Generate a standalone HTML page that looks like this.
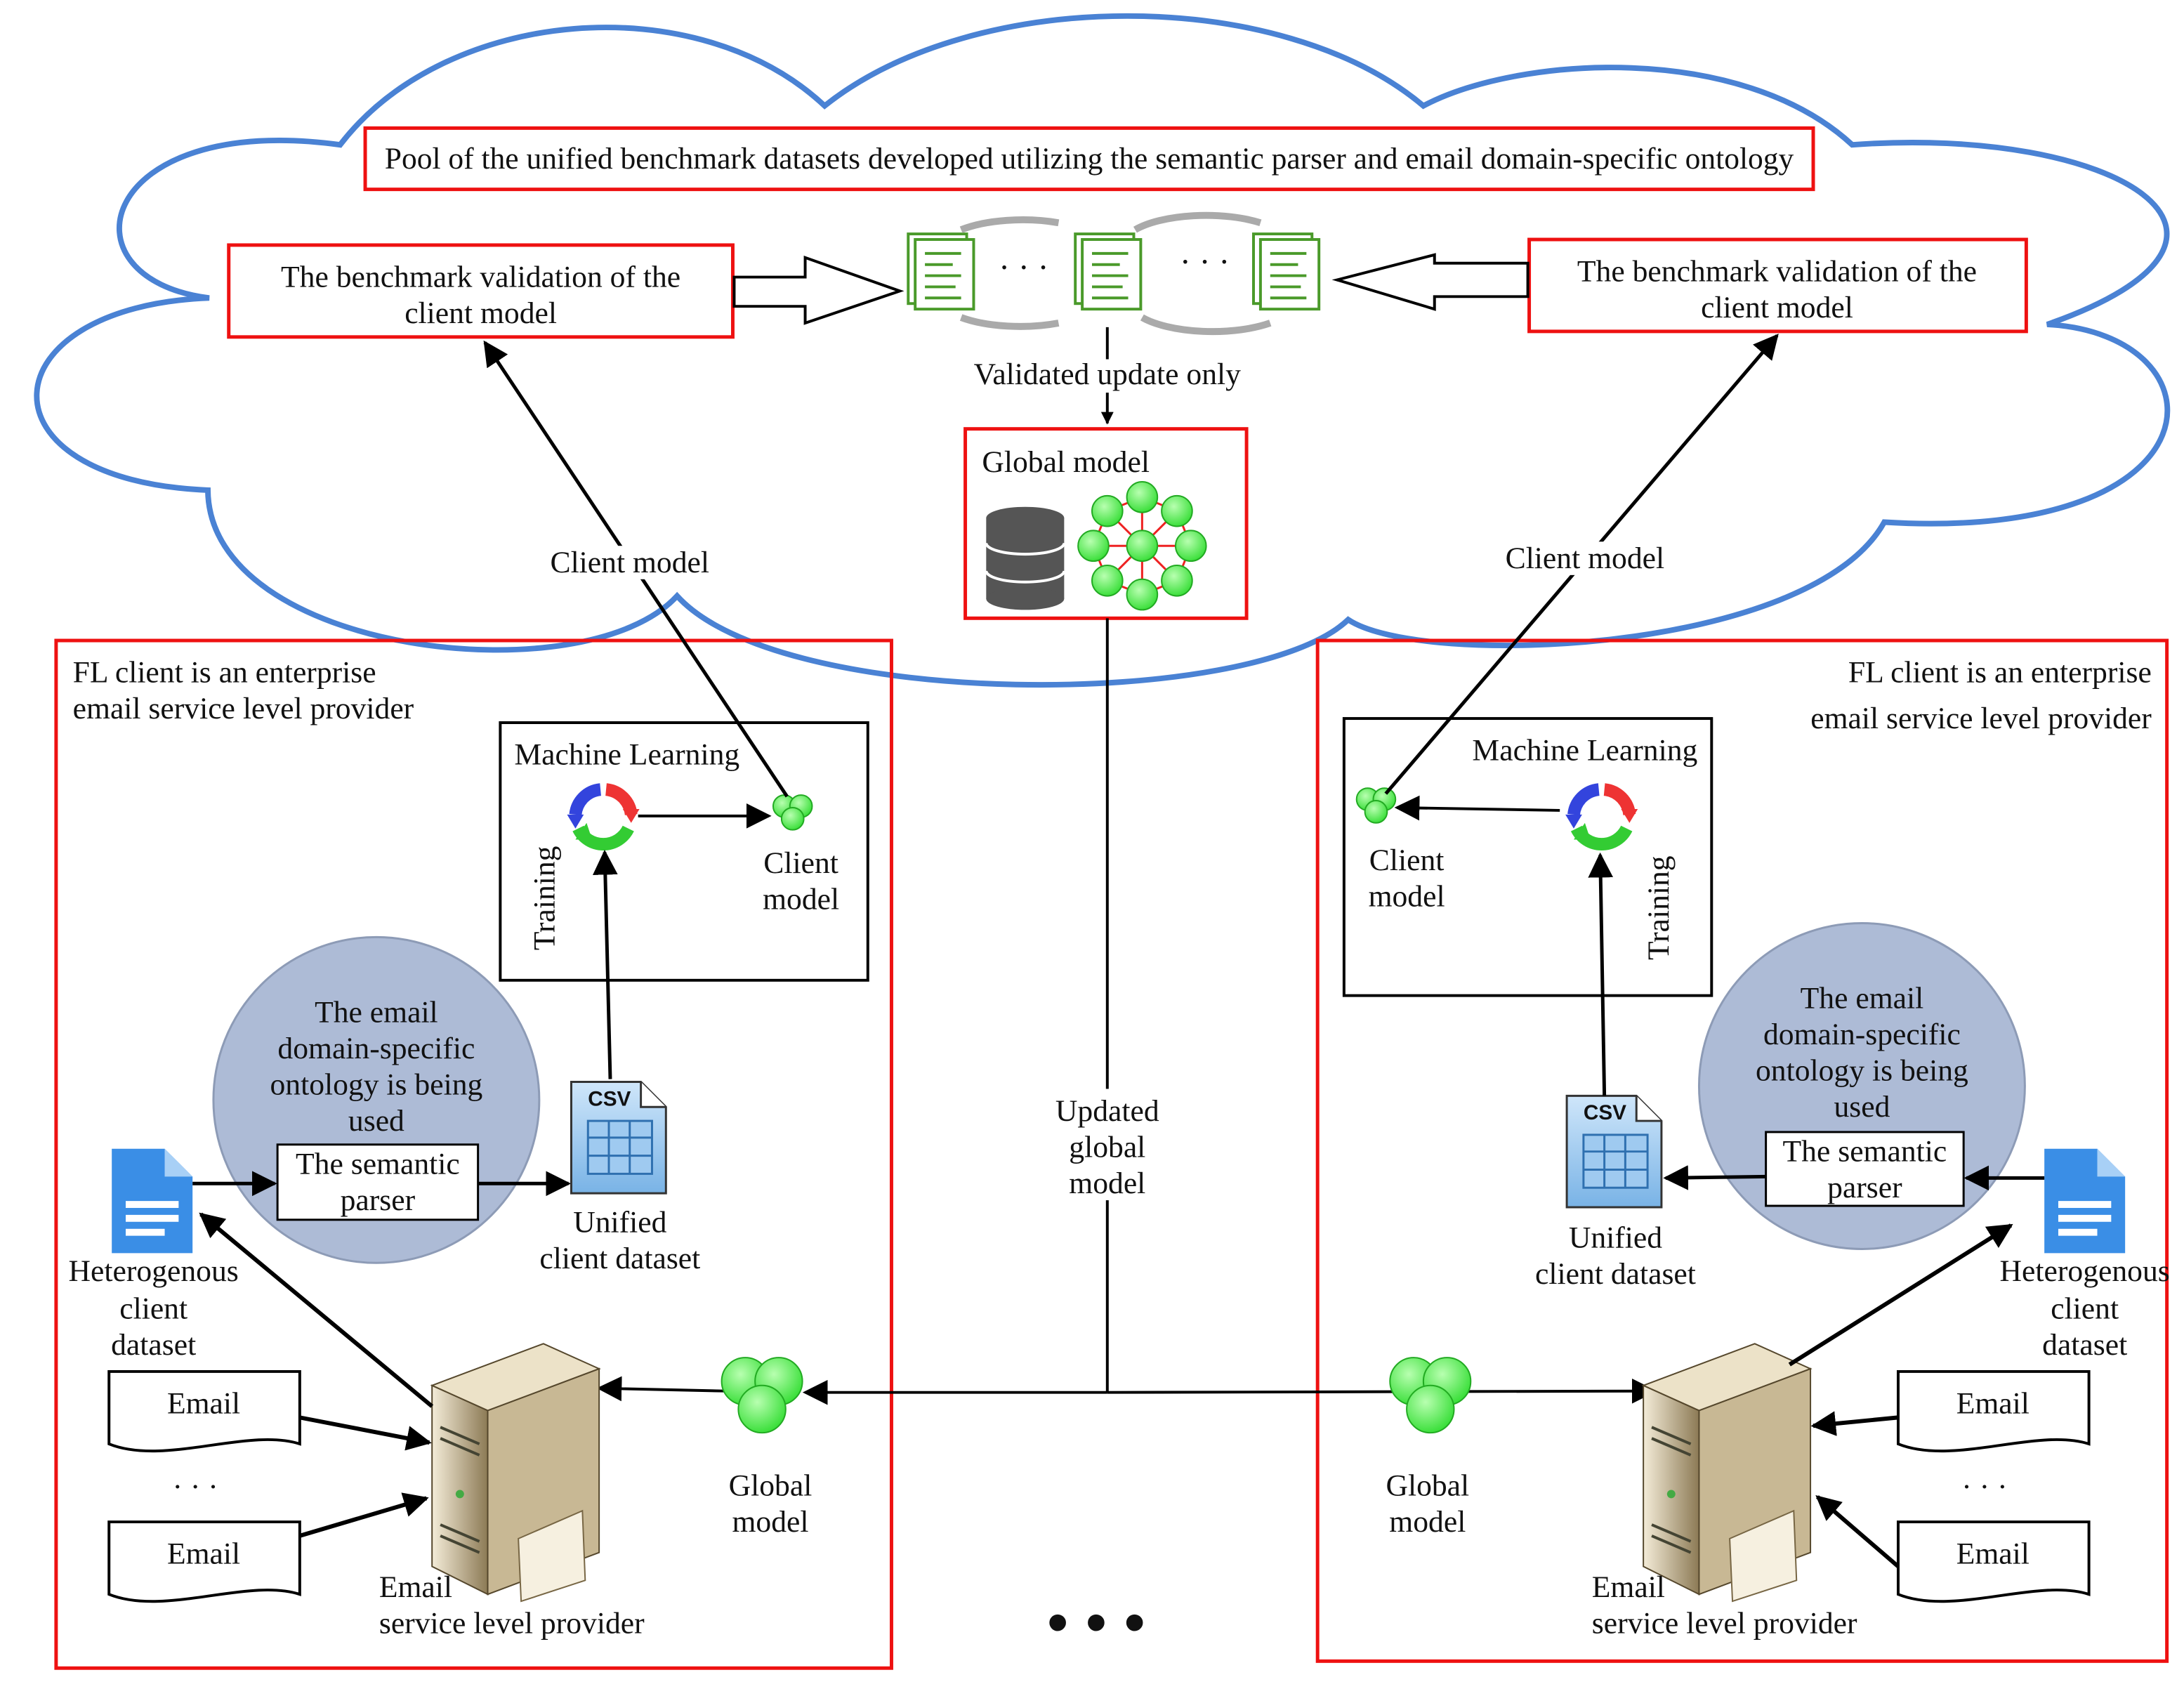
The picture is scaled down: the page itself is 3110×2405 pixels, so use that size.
<!DOCTYPE html>
<html><head><meta charset="utf-8"><style>html,body{margin:0;padding:0;background:#fff}svg{display:block}</style></head>
<body>
<svg xmlns="http://www.w3.org/2000/svg" width="3110" height="2405" viewBox="0 0 1568 1213" font-family="Liberation Serif, serif" font-size="22" fill="#111">
<defs>
<marker id="ah" viewBox="0 0 10 10" refX="9" refY="5" markerWidth="9" markerHeight="9" markerUnits="userSpaceOnUse" orient="auto"><path d="M0,0 L10,5 L0,10 z" fill="#000"/></marker>
<marker id="ab" viewBox="0 0 10 10" refX="9" refY="5" markerWidth="18" markerHeight="18" markerUnits="userSpaceOnUse" orient="auto"><path d="M0,0 L10,5 L0,10 z" fill="#000"/></marker>
<radialGradient id="gg" cx="40%" cy="35%" r="70%"><stop offset="0" stop-color="#b8ffb0"/><stop offset="1" stop-color="#33dd33"/></radialGradient>
<linearGradient id="srv" x1="0" x2="1"><stop offset="0" stop-color="#f4ecd8"/><stop offset="1" stop-color="#8c7a55"/></linearGradient>
<linearGradient id="doc" x1="0" x2="0" y1="0" y2="1"><stop offset="0" stop-color="#cfe6fa"/><stop offset="1" stop-color="#79b3e6"/></linearGradient>
<g id="clus"><circle cx="-12" cy="-8" r="17" fill="url(#gg)" stroke="#22aa22"/><circle cx="12" cy="-8" r="17" fill="url(#gg)" stroke="#22aa22"/><circle cx="0" cy="12" r="17" fill="url(#gg)" stroke="#22aa22"/></g>
<g id="sclus"><circle cx="-6" cy="-4" r="8" fill="url(#gg)" stroke="#22aa22"/><circle cx="6" cy="-4" r="8" fill="url(#gg)" stroke="#22aa22"/><circle cx="0" cy="5" r="8" fill="url(#gg)" stroke="#22aa22"/></g>
<g id="cyc">
<path d="M-20,-2 A20,20 0 0 1 -2,-20" fill="none" stroke="#3344dd" stroke-width="9"/>
<path d="M2,-20 A20,20 0 0 1 20,-2" fill="none" stroke="#ee3333" stroke-width="9"/>
<path d="M18,8 A20,20 0 0 1 -18,8" fill="none" stroke="#33cc33" stroke-width="9"/>
<path d="M14,-6 L26,-6 L20,4 z" fill="#ee3333"/><path d="M-26,-2 L-14,-2 L-20,8 z" fill="#3344dd"/><path d="M-20,16 L-12,4 L-8,16 z" fill="#33cc33"/>
</g>
<g id="gdoc"><rect x="0" y="0" width="42" height="50" fill="#fff" stroke="#4a9a2a" stroke-width="2"/><rect x="5" y="4" width="42" height="50" fill="#fff" stroke="#4a9a2a" stroke-width="2"/>
<path d="M12,14h26M12,22h20M12,30h26M12,38h22M12,46h26" stroke="#4a9a2a" stroke-width="2"/></g>
<g id="bdoc"><path d="M0,0 H38 L58,20 V75 H0 z" fill="#3a8ee6"/><path d="M38,0 V20 H58 z" fill="#a8d0f6"/><path d="M10,40h38M10,50h38M10,60h28" stroke="#fff" stroke-width="5"/></g>
<g id="csv"><path d="M0,0 H50 L68,18 V80 H0 z" fill="url(#doc)" stroke="#333" stroke-width="1.5"/><path d="M50,0 V18 H68" fill="#fff" stroke="#333" stroke-width="1.5"/>
<text x="12" y="17" font-family="Liberation Sans, sans-serif" font-weight="bold" font-size="15">CSV</text>
<rect x="12" y="28" width="46" height="38" fill="#9fcaf0" stroke="#2f70b0" stroke-width="1.5"/><path d="M12,40h46M12,53h46M27,28v38M42,28v38" stroke="#2f70b0" stroke-width="1.5"/></g>
<g id="server"><path d="M0,30 L80,0 L120,18 L120,150 L40,180 L0,160 z" fill="#6d5c3c"/><path d="M0,30 L40,48 L40,180 L0,160 z" fill="url(#srv)" stroke="#55472c"/><path d="M40,48 L120,18 L120,150 L40,180 z" fill="#c8b894" stroke="#55472c"/><path d="M0,30 L80,0 L120,18 L40,48 z" fill="#ece2c8" stroke="#55472c"/>
<path d="M6,60 L34,72 M6,68 L34,80 M6,130 L34,142 M6,138 L34,150" stroke="#443" stroke-width="2"/><circle cx="20" cy="108" r="3" fill="#4a4"/>
<path d="M62,140 L108,120 L110,170 L64,185 z" fill="#f6f0e0" stroke="#776644"/></g>
<g id="email"><path d="M0,0 H137 V52 C100,40 40,68 0,52 z" fill="#fff" stroke="#000" stroke-width="2"/><text x="68" y="30" text-anchor="middle">Email</text></g>
</defs>

<!-- cloud -->
<path d="M150,214 C40,200 70,80 244,104 C320,5 500,-10 592,76 C700,-10 920,-10 1022,76 C1090,40 1250,30 1330,104 C1520,90 1650,170 1470,233 C1600,240 1600,390 1353,375 C1300,470 1020,480 968,445 C900,510 560,510 486,428 C420,500 150,470 149,352 C-20,345 -10,220 150,214 z" fill="#fff" stroke="#4a82d4" stroke-width="4"/>

<rect x="262" y="92" width="1040" height="44" fill="#fff" stroke="#ee1111" stroke-width="2.5"/>
<text x="782" y="121" text-anchor="middle" textLength="1012" lengthAdjust="spacingAndGlyphs">Pool of the unified benchmark datasets developed utilizing the semantic parser and email domain-specific ontology</text>

<rect x="164" y="176" width="362" height="66" fill="#fff" stroke="#ee1111" stroke-width="2.5"/>
<text x="345" y="206" text-anchor="middle">The benchmark validation of the</text><text x="345" y="232" text-anchor="middle">client model</text>
<rect x="1098" y="172" width="357" height="66" fill="#fff" stroke="#ee1111" stroke-width="2.5"/>
<text x="1276" y="202" text-anchor="middle">The benchmark validation of the</text><text x="1276" y="228" text-anchor="middle">client model</text>

<path d="M527,199 H578 V185 L646,209 L578,232 V220 H527 z" fill="#fff" stroke="#000" stroke-width="2"/>
<path d="M1097,189 H1030 V183 L960,201 L1030,222 V213 H1097 z" fill="#fff" stroke="#000" stroke-width="2"/>

<use href="#gdoc" x="652" y="168"/><use href="#gdoc" x="772" y="168"/><use href="#gdoc" x="900" y="168"/>
<text x="735" y="200" text-anchor="middle" font-size="24">· · ·</text><text x="865" y="196" text-anchor="middle" font-size="24">· · ·</text>
<g fill="none" stroke="#aaa" stroke-width="5">
<path d="M690,165 A60 22 0 0 1 760,160"/><path d="M815,165 A60 22 0 0 1 905,160"/><path d="M690,228 A60 22 0 0 0 760,232"/><path d="M820,228 A60 22 0 0 0 912,232"/></g>

<line x1="795" y1="235" x2="795" y2="304" stroke="#000" stroke-width="2" marker-end="url(#ah)"/>
<rect x="690" y="258" width="210" height="24" fill="#fff"/>
<text x="795" y="276" text-anchor="middle">Validated update only</text>

<rect x="693" y="308" width="202" height="136" fill="#fff" stroke="#ee1111" stroke-width="2.5"/>
<text x="705" y="339">Global model</text>
<g fill="#555"><ellipse cx="736" cy="372" rx="28" ry="8"/><rect x="708" y="372" width="56" height="58"/><ellipse cx="736" cy="430" rx="28" ry="8"/></g>
<path d="M708,390 A28 8 0 0 0 764,390 M708,410 A28 8 0 0 0 764,410" stroke="#fff" stroke-width="2" fill="none"/>
<g stroke="#ee2222" stroke-width="1.5">
<line x1="820" y1="392" x2="820" y2="357"/><line x1="820" y1="392" x2="820" y2="427"/><line x1="820" y1="392" x2="785" y2="392"/><line x1="820" y1="392" x2="855" y2="392"/><line x1="820" y1="392" x2="795" y2="367"/><line x1="820" y1="392" x2="845" y2="367"/><line x1="820" y1="392" x2="795" y2="417"/><line x1="820" y1="392" x2="845" y2="417"/>
<path d="M820,357 L845,367 L855,392 L845,417 L820,427 L795,417 L785,392 L795,367 z" fill="none"/></g>
<g fill="url(#gg)" stroke="#22aa22"><circle cx="820" cy="392" r="11"/><circle cx="820" cy="357" r="11"/><circle cx="820" cy="427" r="11"/><circle cx="785" cy="392" r="11"/><circle cx="855" cy="392" r="11"/><circle cx="795" cy="367" r="11"/><circle cx="845" cy="367" r="11"/><circle cx="795" cy="417" r="11"/><circle cx="845" cy="417" r="11"/></g>

<!-- FL boxes -->
<rect x="40" y="460" width="600" height="738" fill="none" stroke="#ee1111" stroke-width="2.5"/>
<rect x="946" y="460" width="610" height="733" fill="none" stroke="#ee1111" stroke-width="2.5"/>

<!-- center lines -->
<line x1="795" y1="444" x2="795" y2="1000" stroke="#000" stroke-width="2"/>
<rect x="745" y="782" width="100" height="80" fill="#fff"/>
<text x="795" y="805" text-anchor="middle">Updated</text><text x="795" y="831" text-anchor="middle">global</text><text x="795" y="857" text-anchor="middle">model</text>
<line x1="795" y1="1000" x2="578" y2="1000" stroke="#000" stroke-width="2" marker-end="url(#ab)"/>
<line x1="795" y1="1000" x2="1188" y2="999" stroke="#000" stroke-width="2" marker-end="url(#ab)"/>
<line x1="520" y1="999" x2="430" y2="997" stroke="#000" stroke-width="2" marker-end="url(#ab)"/>
<text x="787" y="1180" text-anchor="middle" font-size="44" font-family="Liberation Sans, sans-serif">• • •</text>

<!-- LEFT -->
<text x="52" y="490">FL client is an enterprise</text><text x="52" y="516">email service level provider</text>
<rect x="359" y="519" width="264" height="185" fill="#fff" stroke="#000" stroke-width="2"/>
<text x="450" y="549" text-anchor="middle">Machine Learning</text>
<use href="#cyc" x="433" y="587"/>
<line x1="458" y1="586" x2="552" y2="586" stroke="#000" stroke-width="2" marker-end="url(#ab)"/>
<use href="#sclus" x="569" y="583"/>
<text x="575" y="627" text-anchor="middle">Client</text><text x="575" y="653" text-anchor="middle">model</text>
<text transform="translate(398,645) rotate(-90)" text-anchor="middle">Training</text>
<line x1="565" y1="572" x2="348" y2="246" stroke="#000" stroke-width="2.5" marker-end="url(#ab)"/>
<rect x="388" y="392" width="128" height="24" fill="#fff"/>
<text x="452" y="411" text-anchor="middle">Client model</text>

<circle cx="270" cy="790" r="117" fill="#adbbd6" stroke="#8d9bb6" stroke-width="1.5"/>
<text x="270" y="734" text-anchor="middle">The email</text><text x="270" y="760" text-anchor="middle">domain-specific</text><text x="270" y="786" text-anchor="middle">ontology is being</text><text x="270" y="812" text-anchor="middle">used</text>
<rect x="199" y="822" width="144" height="54" fill="#fff" stroke="#000" stroke-width="1.5"/>
<text x="271" y="843" text-anchor="middle">The semantic</text><text x="271" y="869" text-anchor="middle">parser</text>
<use href="#bdoc" x="80" y="825"/>
<line x1="138" y1="850" x2="197" y2="850" stroke="#000" stroke-width="2.5" marker-end="url(#ab)"/>
<line x1="343" y1="850" x2="408" y2="850" stroke="#000" stroke-width="2.5" marker-end="url(#ab)"/>
<use href="#csv" x="410" y="777"/>
<line x1="438" y1="775" x2="434" y2="612" stroke="#000" stroke-width="2.5" marker-end="url(#ab)"/>
<text x="445" y="885" text-anchor="middle">Unified</text><text x="445" y="911" text-anchor="middle">client dataset</text>
<text x="110" y="920" text-anchor="middle">Heterogenous</text><text x="110" y="947" text-anchor="middle">client</text><text x="110" y="973" text-anchor="middle">dataset</text>
<use href="#server" x="310" y="965"/>
<line x1="310" y1="1010" x2="144" y2="872" stroke="#000" stroke-width="3" marker-end="url(#ab)"/>
<use href="#email" x="78" y="985"/>
<text x="140" y="1075" text-anchor="middle" font-size="22">· · ·</text>
<use href="#email" x="78" y="1093"/>
<line x1="215" y1="1018" x2="308" y2="1036" stroke="#000" stroke-width="3" marker-end="url(#ab)"/>
<line x1="215" y1="1103" x2="306" y2="1076" stroke="#000" stroke-width="3" marker-end="url(#ab)"/>
<use href="#clus" x="547" y="1000"/>
<text x="553" y="1074" text-anchor="middle">Global</text><text x="553" y="1100" text-anchor="middle">model</text>
<text x="272" y="1147">Email</text><text x="272" y="1173">service level provider</text>

<!-- RIGHT -->
<text x="1545" y="490" text-anchor="end">FL client is an enterprise</text><text x="1545" y="523" text-anchor="end">email service level provider</text>
<rect x="965" y="516" width="264" height="199" fill="#fff" stroke="#000" stroke-width="2"/>
<text x="1138" y="546" text-anchor="middle">Machine Learning</text>
<use href="#cyc" x="1150" y="587"/>
<line x1="1120" y1="582" x2="1003" y2="580" stroke="#000" stroke-width="2" marker-end="url(#ab)"/>
<use href="#sclus" x="988" y="578"/>
<text x="1010" y="625" text-anchor="middle">Client</text><text x="1010" y="651" text-anchor="middle">model</text>
<text transform="translate(1198,652) rotate(-90)" text-anchor="middle">Training</text>
<line x1="995" y1="570" x2="1276" y2="241" stroke="#000" stroke-width="2.5" marker-end="url(#ab)"/>
<rect x="1074" y="389" width="128" height="24" fill="#fff"/>
<text x="1138" y="408" text-anchor="middle">Client model</text>

<circle cx="1337" cy="780" r="117" fill="#adbbd6" stroke="#8d9bb6" stroke-width="1.5"/>
<text x="1337" y="724" text-anchor="middle">The email</text><text x="1337" y="750" text-anchor="middle">domain-specific</text><text x="1337" y="776" text-anchor="middle">ontology is being</text><text x="1337" y="802" text-anchor="middle">used</text>
<rect x="1268" y="813" width="142" height="53" fill="#fff" stroke="#000" stroke-width="1.5"/>
<text x="1339" y="834" text-anchor="middle">The semantic</text><text x="1339" y="860" text-anchor="middle">parser</text>
<use href="#bdoc" x="1468" y="825"/>
<line x1="1468" y1="846" x2="1412" y2="846" stroke="#000" stroke-width="2.5" marker-end="url(#ab)"/>
<line x1="1268" y1="845" x2="1196" y2="846" stroke="#000" stroke-width="2.5" marker-end="url(#ab)"/>
<use href="#csv" x="1125" y="787"/>
<line x1="1152" y1="787" x2="1149" y2="614" stroke="#000" stroke-width="2.5" marker-end="url(#ab)"/>
<text x="1160" y="896" text-anchor="middle">Unified</text><text x="1160" y="922" text-anchor="middle">client dataset</text>
<text x="1497" y="920" text-anchor="middle">Heterogenous</text><text x="1497" y="947" text-anchor="middle">client</text><text x="1497" y="973" text-anchor="middle">dataset</text>
<use href="#server" x="1180" y="965"/>
<line x1="1285" y1="980" x2="1444" y2="880" stroke="#000" stroke-width="3" marker-end="url(#ab)"/>
<use href="#email" x="1363" y="985"/>
<text x="1425" y="1075" text-anchor="middle" font-size="22">· · ·</text>
<use href="#email" x="1363" y="1093"/>
<line x1="1363" y1="1018" x2="1302" y2="1024" stroke="#000" stroke-width="3" marker-end="url(#ab)"/>
<line x1="1363" y1="1125" x2="1305" y2="1075" stroke="#000" stroke-width="3" marker-end="url(#ab)"/>
<use href="#clus" x="1027" y="1000"/>
<text x="1025" y="1074" text-anchor="middle">Global</text><text x="1025" y="1100" text-anchor="middle">model</text>
<text x="1143" y="1147">Email</text><text x="1143" y="1173">service level provider</text>
</svg>
</body></html>
